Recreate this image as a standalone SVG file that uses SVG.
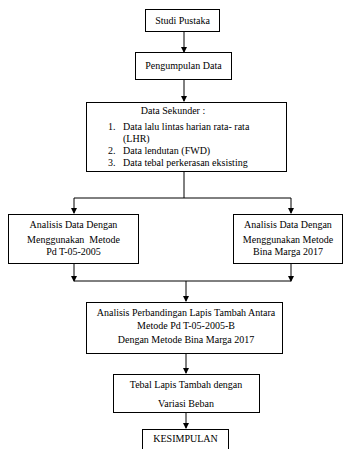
<svg xmlns="http://www.w3.org/2000/svg" width="345" height="449" viewBox="0 0 345 449">
<defs>
<style>
.box{fill:#fff;stroke:#000;stroke-width:1}
.t{font-family:"Liberation Serif","Times New Roman",serif;font-size:10px;fill:#000}
.c{text-anchor:middle}
.ln{fill:none;stroke:#000;stroke-width:1}
</style>
<marker id="ah" markerWidth="6" markerHeight="6" refX="5" refY="3" orient="auto" markerUnits="userSpaceOnUse">
<path d="M0,0 L6,3 L0,6 Z" fill="#000"/>
</marker>
</defs>
<rect width="345" height="449" fill="#fff"/>
<g id="connectors">
<path class="ln" d="M184,31 V52" marker-end="url(#ah)"/>
<path class="ln" d="M184,79 V101" marker-end="url(#ah)"/>
<path class="ln" d="M184,171 V198 M74,198 H291"/>
<path class="ln" d="M74,198 V213" marker-end="url(#ah)"/>
<path class="ln" d="M291,198 V213" marker-end="url(#ah)"/>
<path class="ln" d="M74,263 V281" marker-end="url(#ah)"/>
<path class="ln" d="M291,263 V281" marker-end="url(#ah)"/>
<path class="ln" d="M74,281 H291"/>
<path class="ln" d="M186,281 V301" marker-end="url(#ah)"/>
<path class="ln" d="M186,353 V373" marker-end="url(#ah)"/>
<path class="ln" d="M186,412 V428" marker-end="url(#ah)"/>
</g>
<g id="studi">
<rect class="box" x="145.5" y="9.5" width="74" height="22"/>
<text class="t c" x="182.5" y="24">Studi Pustaka</text>
</g>
<g id="pengumpulan">
<rect class="box" x="135.5" y="52.5" width="96" height="27"/>
<text class="t c" x="183.5" y="69">Pengumpulan Data</text>
</g>
<g id="sekunder">
<rect class="box" x="86.5" y="102.5" width="200" height="69"/>
<text class="t c" x="173" y="114">Data Sekunder :</text>
<text class="t" x="108" y="130">1.</text>
<text class="t" x="123" y="130">Data lalu lintas harian rata- rata</text>
<text class="t" x="123" y="142">(LHR)</text>
<text class="t" x="108" y="154">2.</text>
<text class="t" x="123" y="154">Data lendutan (FWD)</text>
<text class="t" x="108" y="166">3.</text>
<text class="t" x="123" y="166">Data tebal perkerasan eksisting</text>
</g>
<g id="pdt">
<rect class="box" x="8.5" y="214.5" width="130" height="49"/>
<text class="t c" x="73.5" y="228">Analisis Data Dengan</text>
<text class="t c" x="73.5" y="243">Menggunakan&#160; Metode</text>
<text class="t c" x="73.5" y="255">Pd T-05-2005</text>
</g>
<g id="binamarga">
<rect class="box" x="233.5" y="214.5" width="109" height="49"/>
<text class="t c" x="288" y="228">Analisis Data Dengan</text>
<text class="t c" x="288" y="243">Menggunakan Metode</text>
<text class="t c" x="288" y="255">Bina Marga 2017</text>
</g>
<g id="perbandingan">
<rect class="box" x="86.5" y="302.5" width="196" height="51"/>
<text class="t c" x="186" y="316">Analisis Perbandingan Lapis Tambah Antara</text>
<text class="t c" x="186" y="329">Metode Pd T-05-2005-B</text>
<text class="t c" x="186" y="343">Dengan Metode Bina Marga 2017</text>
</g>
<g id="tebal">
<rect class="box" x="113.5" y="374.5" width="146" height="38"/>
<text class="t c" x="186" y="388">Tebal Lapis Tambah dengan</text>
<text class="t c" x="186" y="407">Variasi Beban</text>
</g>
<g id="kesimpulan">
<rect class="box" x="142.5" y="429.5" width="86" height="30"/>
<text class="t c" x="185.5" y="442">KESIMPULAN</text>
</g>
</svg>
